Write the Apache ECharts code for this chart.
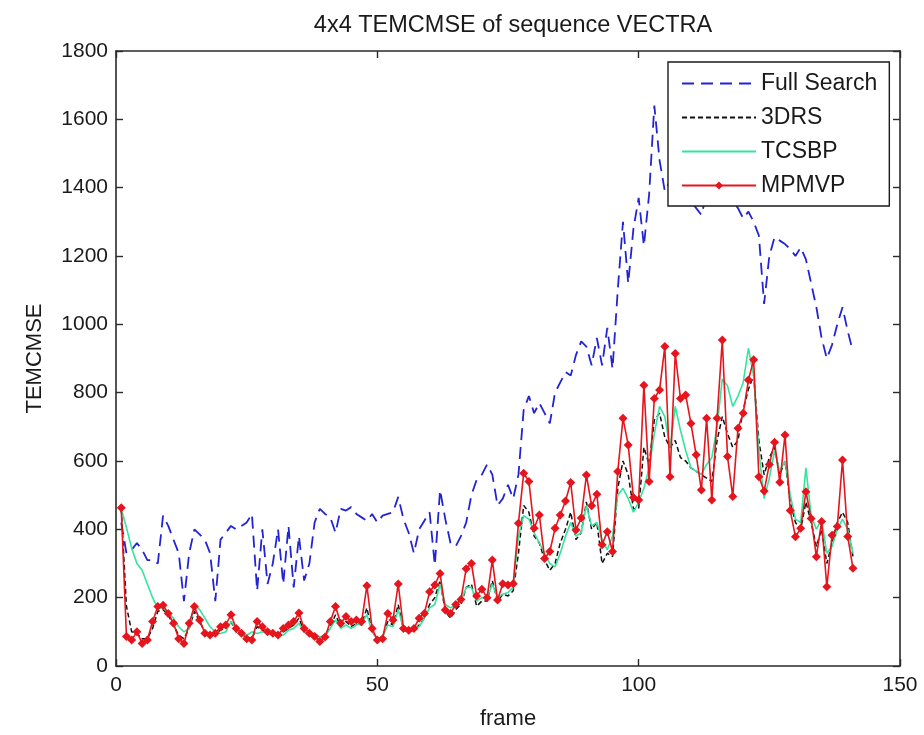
<!DOCTYPE html>
<html>
<head>
<meta charset="utf-8">
<script src="https://cdn.jsdelivr.net/npm/echarts@6/dist/echarts.min.js"></script>
<style>
html,body{margin:0;padding:0;background:#fff;}
#chart{width:924px;height:735px;}
</style>
</head>
<body>
<div id="chart"></div>
<script>
// ---- data ----
var seriesNames = ["Full Search", "3DRS", "TCSBP", "MPMVP"];
var xTicks = [0, 50, 100, 150];
var yTicks = [0, 200, 400, 600, 800, 1000, 1200, 1400, 1600, 1800];

var fullSearch = [
  420, 330, 340, 360, 340, 310, 310, 300, 440, 410,
  370, 330, 190, 330, 400, 385, 370, 330, 190, 370,
  390, 410, 400, 410, 420, 445, 220, 400, 240, 300,
  400, 240, 410, 230, 380, 250, 300, 420, 460, 445,
  435, 390, 460, 455, 465, 445, 435, 425, 445, 420,
  440, 445, 450, 495, 430, 390, 330, 400, 425, 450,
  295, 515, 430, 360, 350, 380, 420, 500, 545, 560,
  590, 560, 470, 490, 530, 490, 560, 750, 790, 740,
  770, 740, 710, 800, 830, 860, 850, 910, 950, 935,
  880, 960, 880, 990, 870, 1100, 1300, 1120, 1280, 1370,
  1230, 1380, 1640, 1480, 1390, 1420, 1450, 1400, 1380, 1360,
  1340, 1320, 1380, 1420, 1400, 1380, 1400, 1360, 1340, 1310,
  1330, 1300, 1260, 1060, 1200, 1255, 1245, 1235, 1220, 1200,
  1225, 1190, 1120, 1050, 960, 900, 940, 1000, 1050, 980, 920
];

var drs3 = [
  460, 175, 100, 95, 80, 80, 110, 160, 165, 150,
  120, 90, 80, 110, 160, 130, 100, 95, 95, 105,
  110, 130, 100, 95, 85, 80, 115, 105, 95, 95,
  90, 100, 110, 120, 140, 100, 90, 85, 75, 85,
  115, 150, 115, 130, 115, 125, 120, 170, 100, 80,
  85, 130, 120, 180, 105, 100, 105, 120, 140, 180,
  200, 250, 160, 140, 165, 180, 230, 240, 175, 190,
  190, 250, 190, 210, 205, 220, 330, 470, 450, 380,
  360, 310, 280, 300, 360, 400, 450, 370, 390, 480,
  400, 420, 300, 330, 320, 520, 600, 560, 460, 460,
  640, 590, 720, 740, 670, 640, 660, 610, 600, 580,
  570, 560, 550, 540, 660, 730, 680, 640, 660, 750,
  810, 850, 660, 560, 610, 640, 560, 600, 480, 420,
  400, 480, 420, 350, 400, 300, 360, 420, 450, 420, 320
];

var tcsbp = [
  460, 405, 345, 300, 280, 240, 200, 170, 170, 155,
  140, 115, 100, 110, 180, 165, 140, 115, 100, 95,
  100, 130, 110, 100, 90, 100, 95, 100, 95, 100,
  95, 90, 105, 110, 125, 100, 90, 95, 85, 90,
  110, 135, 110, 120, 110, 120, 125, 150, 100, 80,
  85, 120, 115, 165, 110, 105, 110, 115, 140, 170,
  180, 240, 180, 170, 180, 190, 230, 230, 190, 200,
  200, 240, 200, 210, 215, 230, 380, 440, 430, 390,
  360, 330, 300, 290, 330, 380, 420, 380, 390, 470,
  410, 420, 370, 340, 380, 500, 520, 490, 450, 480,
  520, 580, 680, 760, 730, 640, 760, 690, 630, 580,
  570, 560, 590, 610, 700, 840, 820, 760, 790, 830,
  930, 850, 630, 490, 550, 630, 570, 600, 500, 430,
  420, 580, 440, 400, 430, 330, 350, 400, 430, 400, 330
];

var mpmvp = [
  463, 86, 76, 100, 66, 76, 130, 174, 178, 154,
  125, 80, 66, 125, 174, 135, 96, 91, 96, 115,
  120, 150, 110, 96, 80, 76, 130, 115, 100, 96,
  91, 110, 120, 130, 155, 110, 96, 86, 72, 85,
  130, 174, 125, 145, 130, 135, 130, 235, 110, 76,
  80, 154, 135, 240, 110, 105, 110, 140, 154, 217,
  237, 271, 164, 154, 180, 195, 285, 300, 205, 225,
  200, 310, 193, 241, 237, 241, 418, 564, 540, 403,
  442, 315, 335, 403, 442, 483, 537, 398, 433, 559,
  469, 503, 355, 393, 335, 569, 725, 647, 493, 486,
  822, 540, 783, 808, 935, 554, 915, 783, 793, 710,
  618, 515, 725, 486, 725, 954, 613, 496, 696, 740,
  837, 896, 554, 512, 590, 655, 538, 676, 455, 378,
  403, 510, 432, 320, 423, 232, 383, 408, 603, 379, 286
];

// frame numbers start at 1
function pairs(vals) {
  var out = [];
  for (var i = 0; i < vals.length; i++) out.push([i + 1, vals[i]]);
  return out;
}

var FONT = "'Liberation Sans', Arial, sans-serif";
var INK = '#1a1a1a';
var chart = echarts.init(document.getElementById('chart'), null, {renderer: 'canvas'});

function axLine() { return {show: true, onZero: false, lineStyle: {color: '#2a2a2a', width: 1.6}}; }
function axTick() { return {show: true, inside: true, length: 7, lineStyle: {color: '#2a2a2a', width: 1.4}}; }
function plain(v) { return String(v); }

chart.setOption({
  backgroundColor: '#ffffff',
  animation: false,
  title: {
    text: '4x4 TEMCMSE of sequence VECTRA',
    left: 508, textAlign: 'center', top: 9,
    textStyle: {fontFamily: FONT, fontSize: 23.5, fontWeight: 'normal', color: INK}
  },
  grid: {left: 116, right: 24, top: 51, bottom: 69, containLabel: false},
  legend: {
    orient: 'vertical',
    left: 668, top: 62,
    padding: [10, 12, 9, 13],
    itemWidth: 74, itemHeight: 10, itemGap: 11,
    backgroundColor: '#ffffff',
    borderColor: INK, borderWidth: 1.4,
    textStyle: {fontFamily: FONT, fontSize: 23, color: INK},
    data: [
      {name: seriesNames[0], itemStyle: {opacity: 0}},
      {name: seriesNames[1], itemStyle: {opacity: 0}},
      {name: seriesNames[2], itemStyle: {opacity: 0}},
      {name: seriesNames[3]}
    ]
  },
  xAxis: [{
    type: 'value', min: xTicks[0], max: xTicks[xTicks.length - 1], interval: 50,
    position: 'bottom',
    axisLine: axLine(), axisTick: axTick(), splitLine: {show: false},
    axisLabel: {fontFamily: FONT, fontSize: 21, color: INK, margin: 9, formatter: plain},
    name: 'frame', nameLocation: 'middle', nameGap: 42,
    nameTextStyle: {fontFamily: FONT, fontSize: 22, color: INK}
  }, {
    type: 'value', min: xTicks[0], max: xTicks[xTicks.length - 1], interval: 50,
    position: 'top',
    axisLine: axLine(), axisTick: axTick(), splitLine: {show: false},
    axisLabel: {show: false}
  }],
  yAxis: [{
    type: 'value', min: yTicks[0], max: yTicks[yTicks.length - 1], interval: 200,
    position: 'left',
    axisLine: axLine(), axisTick: axTick(), splitLine: {show: false},
    axisLabel: {fontFamily: FONT, fontSize: 21, color: INK, margin: 8, formatter: plain},
    name: 'TEMCMSE', nameLocation: 'middle', nameGap: 70, nameRotate: 90,
    nameTextStyle: {fontFamily: FONT, fontSize: 22, color: INK}
  }, {
    type: 'value', min: yTicks[0], max: yTicks[yTicks.length - 1], interval: 200,
    position: 'right',
    axisLine: axLine(), axisTick: axTick(), splitLine: {show: false},
    axisLabel: {show: false}
  }],
  series: [{
    name: seriesNames[0], type: 'line', data: pairs(fullSearch),
    xAxisIndex: 0, yAxisIndex: 0,
    showSymbol: false, symbol: 'none',
    itemStyle: {color: '#2323d6'},
    lineStyle: {color: '#2323d6', width: 1.8, type: [12, 7]},
    z: 2
  }, {
    name: seriesNames[1], type: 'line', data: pairs(drs3),
    showSymbol: false, symbol: 'none',
    itemStyle: {color: '#111111'},
    lineStyle: {color: '#111111', width: 1.5, type: [5, 3]},
    z: 3
  }, {
    name: seriesNames[2], type: 'line', data: pairs(tcsbp),
    showSymbol: false, symbol: 'none',
    itemStyle: {color: '#33e49c'},
    lineStyle: {color: '#33e49c', width: 1.6},
    z: 4
  }, {
    name: seriesNames[3], type: 'line', data: pairs(mpmvp),
    symbol: 'diamond', symbolSize: 9, showSymbol: true,
    itemStyle: {color: '#e6141c'},
    lineStyle: {color: '#e6141c', width: 1.6},
    z: 5
  }]
});
</script>
</body>
</html>
